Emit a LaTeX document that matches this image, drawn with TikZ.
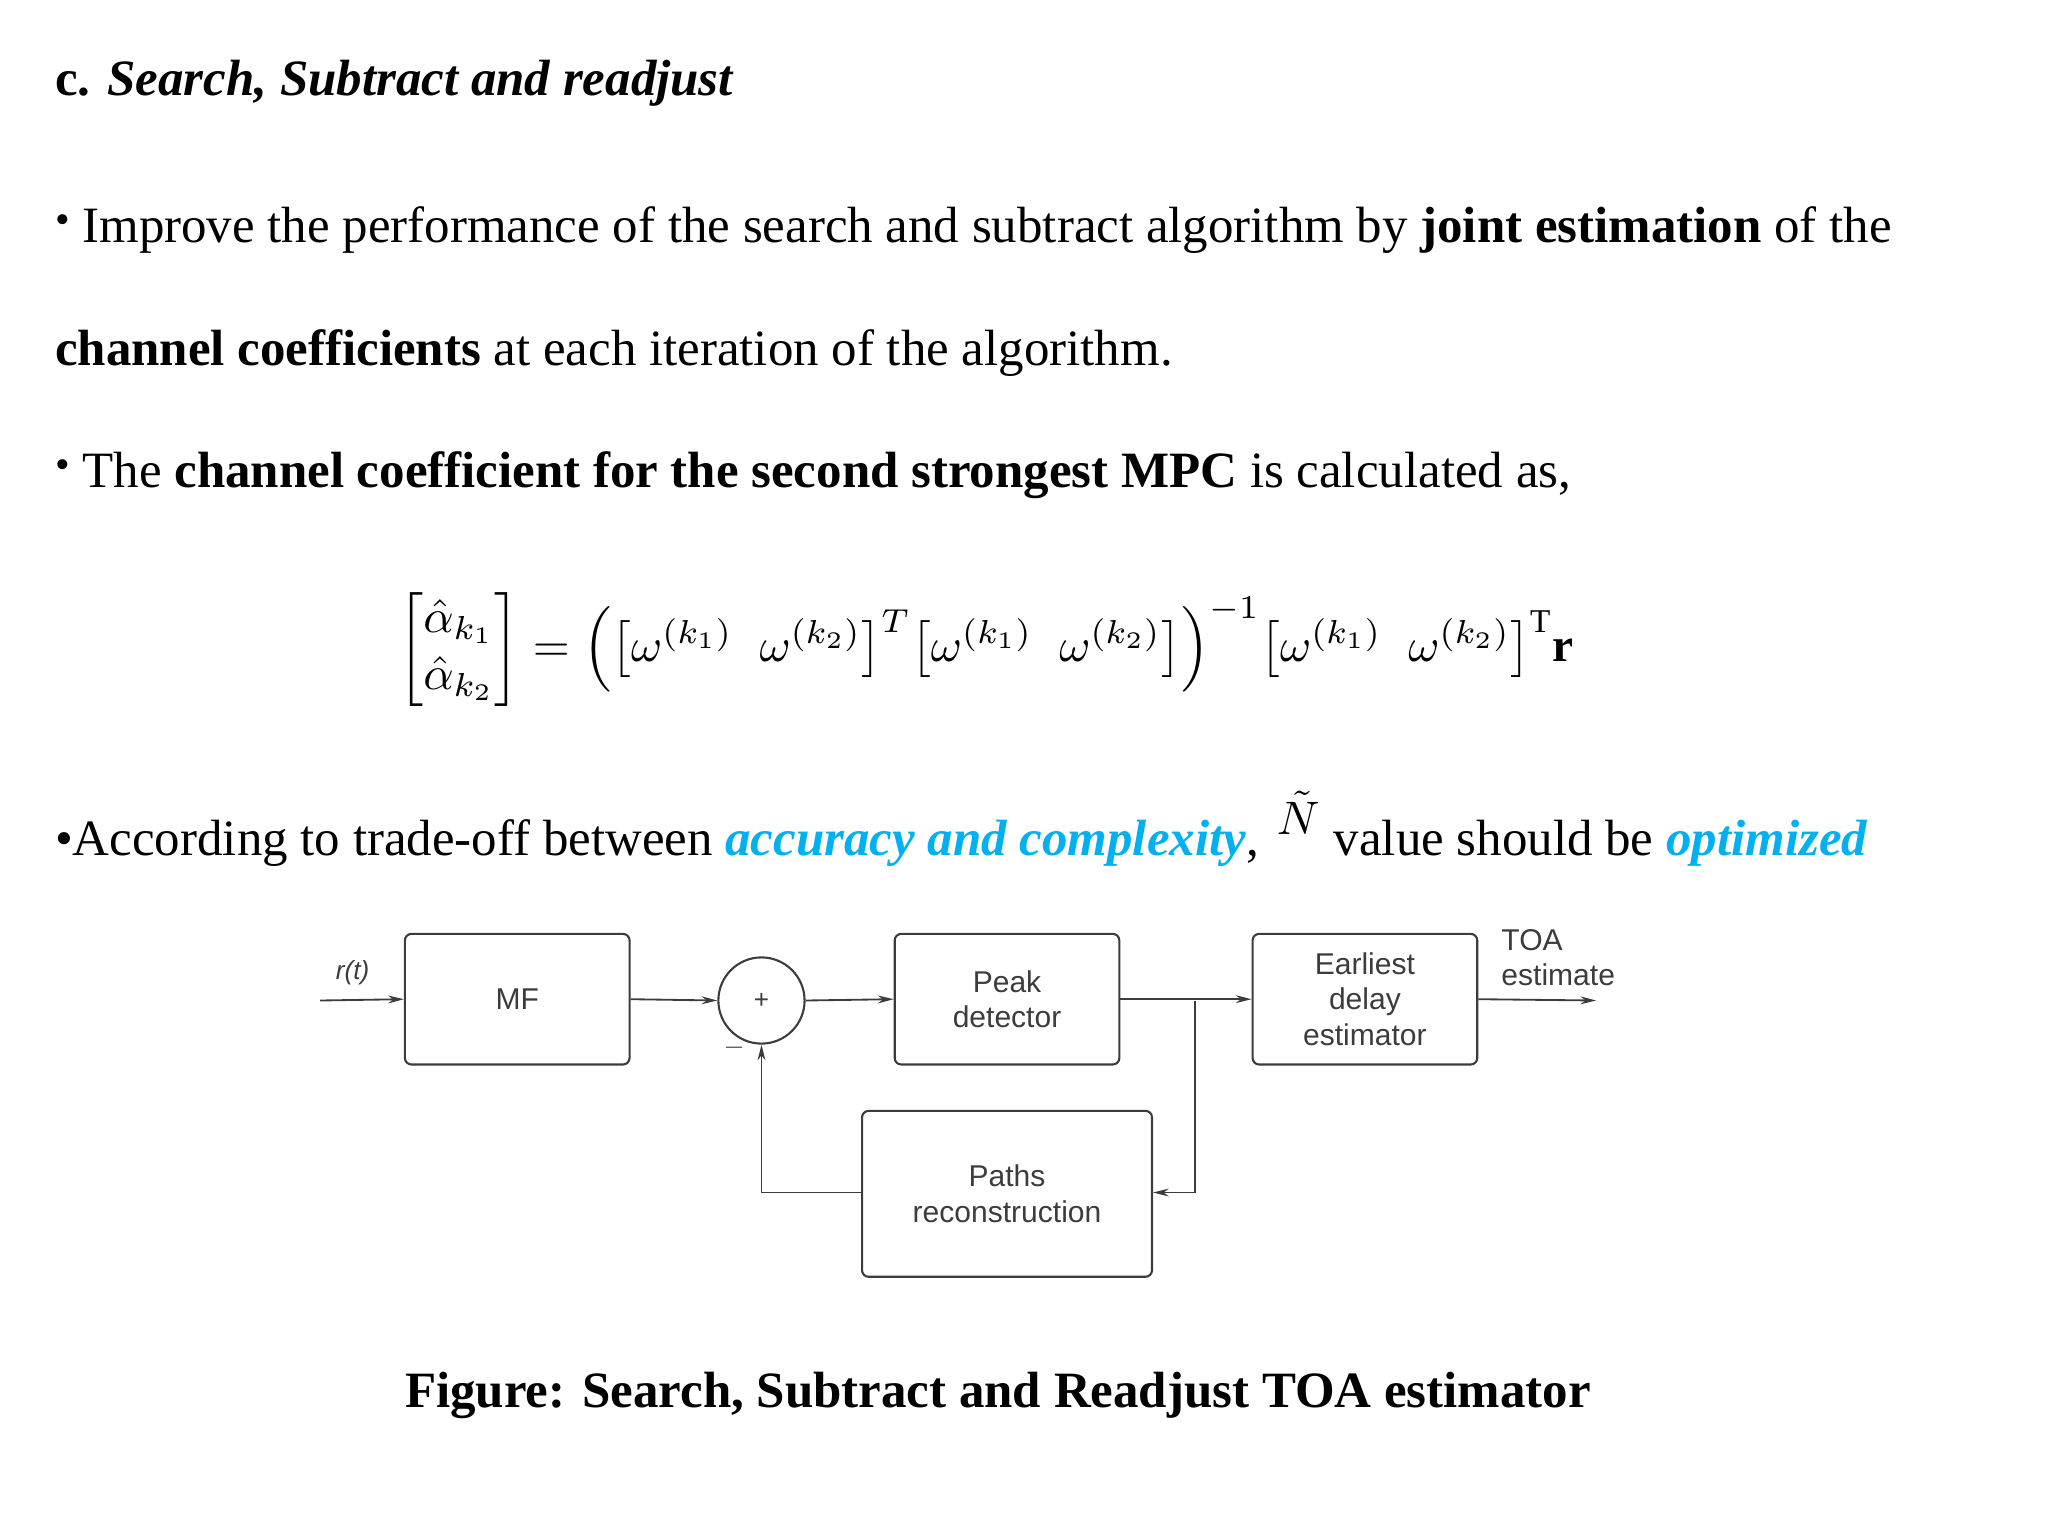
\documentclass[tikz,border=0pt]{standalone}
\usepackage{amsmath}
\usepackage{graphicx}
\usepackage{fontspec}
\setmainfont{Liberation Serif}
\newfontfamily\dsans{Liberation Sans}
\usetikzlibrary{arrows.meta}
\definecolor{hl}{RGB}{0,176,240}
\definecolor{ln}{RGB}{60,60,60}
\begin{document}
\begin{tikzpicture}[x=1pt,y=-1pt,
  body/.style={anchor=base west,inner sep=0,font=\fontsize{39}{44}\selectfont},
  blk/.style={draw=ln,line width=1.6pt,rounded corners=5pt,align=center,font=\dsans\fontsize{23}{27}\selectfont,text=ln},
  con/.style={draw=ln,line width=1.4pt},
  arr/.style={con,-{Stealth[length=12pt,width=6pt]}}]
\useasboundingbox (0,0) rectangle (1568,1176);
\node[body] (t) at (42,73) {\textbf{c. \textit{Search, Subtract and readjust}}};
\node[body] (l1) at (42,186) {\raisebox{7pt}{\fontsize{32}{32}\selectfont•} Improve the performance of the search and subtract algorithm by \textbf{joint estimation} of the};
\node[body] (l2) at (42,280) {\textbf{channel coefficients} at each iteration of the algorithm.};
\node[body] (l3) at (42,373) {\raisebox{7pt}{\fontsize{32}{32}\selectfont•} The \textbf{channel coefficient for the second strongest MPC} is calculated as,};
\node[inner sep=0] (eq) at (755,497) {\resizebox{900pt}{!}{$\left[\begin{matrix}\hat\alpha_{k_1}\\ \hat\alpha_{k_2}\end{matrix}\right]=\Big(\big[\omega^{(k_1)}\;\;\omega^{(k_2)}\big]^{T}\big[\omega^{(k_1)}\;\;\omega^{(k_2)}\big]\Big)^{-1}\big[\omega^{(k_1)}\;\;\omega^{(k_2)}\big]^{\mathrm{T}}\mathbf{r}$}};
\node[body] (l4) at (42,655) {•According to trade-off between \textcolor{hl}{\textbf{\textit{accuracy and complexity}}},};
\node[inner sep=0] (nt) at (994,622) {\scalebox{3.6}{$\tilde N$}};
\node[body] (l5) at (1021,655) {value should be \textcolor{hl}{\textbf{\textit{optimized}}}};
% diagram
\node[blk,minimum width=172pt,minimum height=100pt] (mf) at (396,765) {MF};
\node[draw=ln,line width=1.6pt,circle,minimum size=66pt,inner sep=0,font=\dsans\fontsize{20}{20}\selectfont,text=ln] (sum) at (583,766) {+};
\node[blk,minimum width=172pt,minimum height=100pt] (pk) at (771,765) {Peak\\detector};
\node[blk,minimum width=172pt,minimum height=100pt] (ed) at (1045,765) {Earliest\\delay\\estimator};
\node[blk,minimum width=222pt,minimum height=127pt] (pr) at (771,914) {Paths\\reconstruction};
\coordinate (in) at (245,766);
\coordinate (out) at (1222,766);
\coordinate (br) at (915,766);
\coordinate (brd) at (915,913);
\coordinate (lc) at (583,913);
\node[font=\dsans\itshape\fontsize{20}{22}\selectfont,text=ln] (rt) at (270,745) {r(t)};
\node[font=\dsans\fontsize{23}{27}\selectfont,text=ln,align=left,anchor=west] (toa) at (1146,733) {TOA\\estimate};
\node[font=\dsans\fontsize{20}{20}\selectfont,text=ln] (mn) at (562,802) {$-$};
\draw[arr] (in) -- (mf.west);
\draw[arr] (mf.east) -- (sum.west);
\draw[arr] (sum.east) -- (pk.west);
\draw[arr] (pk.east) -- (ed.west);
\draw[arr] (ed.east) -- (out);
\draw[arr] (br) -- (brd) -- (pr.east |- brd);
\draw[arr] (pr.west |- lc) -- (lc) -- (sum.south);
\node[inner sep=0,font=\fontsize{39}{44}\selectfont\bfseries] (cap) at (764,1068) {Figure: Search, Subtract and Readjust TOA estimator};
\end{tikzpicture}
\end{document}
